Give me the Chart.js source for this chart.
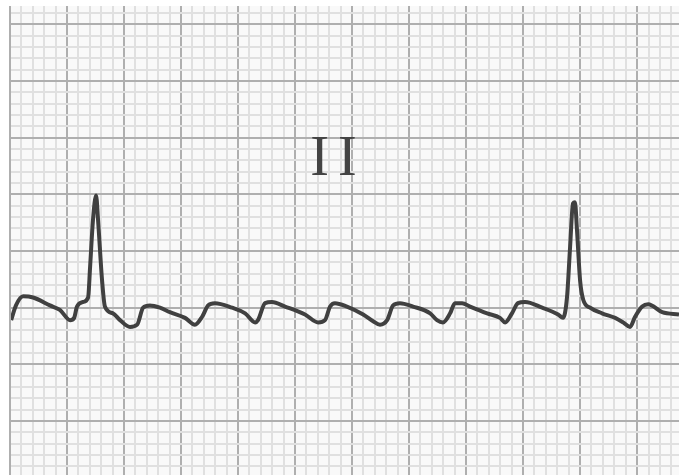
<!DOCTYPE html>
<html lang="en">
<head>
    <meta charset="UTF-8">
    <title>ECG lead II</title>
    <script src="https://cdn.jsdelivr.net/npm/chart.js@4.4.1/dist/chart.umd.min.js"></script>
    <style>
        html, body { margin: 0; padding: 0; background: #ffffff; }
        #wrap { width: 679px; height: 475px; }
    </style>
</head>
<body>

<div id="wrap"><canvas id="ecg"></canvas></div>

<script>

    // lead label
    var leadName = "II";

    // time in seconds (25 mm/s paper), voltage in mV (10 mm/mV)
    var timeSec = [0.004, 0.021, 0.046, 0.081, 0.140, 0.175, 0.211, 0.225, 0.235, 0.256,
        0.274, 0.281, 0.291, 0.302, 0.309, 0.323, 0.333, 0.361, 0.386, 0.421,
        0.446, 0.467, 0.491, 0.526, 0.561, 0.614, 0.649, 0.674, 0.695, 0.719,
        0.779, 0.825, 0.860, 0.870, 0.895, 0.919, 0.965, 1.035, 1.081, 1.105,
        1.123, 1.140, 1.182, 1.239, 1.274, 1.298, 1.323, 1.344, 1.368, 1.414,
        1.474, 1.498, 1.519, 1.544, 1.561, 1.586, 1.614, 1.674, 1.719, 1.737,
        1.761, 1.782, 1.807, 1.867, 1.923, 1.940, 1.954, 1.965, 1.975, 1.982,
        1.989, 2.000, 2.011, 2.035, 2.077, 2.123, 2.151, 2.175, 2.193, 2.218,
        2.239, 2.288, 2.347];

    var voltage = [0.89, 1.02, 1.10, 1.09, 1.02, 0.98, 0.89, 0.91, 1.01, 1.05,
        1.09, 1.36, 1.77, 1.99, 1.77, 1.24, 1.01, 0.95, 0.89, 0.83,
        0.85, 1.00, 1.02, 1.00, 0.96, 0.91, 0.85, 0.92, 1.02, 1.04,
        1.00, 0.95, 0.87, 0.89, 1.04, 1.05, 1.01, 0.94, 0.87, 0.89,
        1.01, 1.04, 1.01, 0.94, 0.88, 0.85, 0.89, 1.02, 1.04, 1.01,
        0.95, 0.89, 0.87, 0.95, 1.04, 1.04, 1.01, 0.95, 0.91, 0.87,
        0.95, 1.04, 1.05, 1.00, 0.94, 0.91, 1.09, 1.54, 1.92, 1.93,
        1.69, 1.24, 1.07, 1.00, 0.95, 0.91, 0.87, 0.83, 0.92, 1.01,
        1.03, 0.96, 0.94];

    // paper grid: small box 0.04 s x 0.1 mV, big box every 5
    var gridTime = [];
    for (var i = 0; i <= 59; i++) gridTime.push(i * 0.04);
    var gridVolt = [];
    for (var j = -4; j <= 36; j++) gridVolt.push(j * 0.1);

    var points = timeSec.map(function (t, k) { return {x: t, y: voltage[k]}; });

    var paperBg = {
        id: 'paperBg',
        beforeDraw: function (chart) {
            var a = chart.chartArea, c = chart.ctx;
            c.save();
            c.fillStyle = '#f9f9f9';
            c.fillRect(a.left, a.top, a.right - a.left, a.bottom - a.top);
            c.restore();
        }
    };

    var leadLabel = {
        id: 'leadLabel',
        afterDatasetsDraw: function (chart) {
            var c = chart.ctx;
            c.save();
            c.fillStyle = '#444444';
            c.font = '56px "Liberation Serif", "DejaVu Serif", serif';
            c.letterSpacing = '9px';
            c.textAlign = 'center';
            c.textBaseline = 'middle';
            c.fillText(leadName, 338, 160);
            c.restore();
        }
    };

    function gridColor(step, minor, major) {
        return function (ctx) {
            if (!ctx.tick) return minor;
            var n = Math.round(ctx.tick.value / step);
            return (n % 5 === 0) ? major : minor;
        };
    }

    var ctx = document.getElementById("ecg");

    var chart = new Chart(ctx, {
        type: 'line',
        data: {
            datasets: [{
                label: 'Lead II',
                data: points,
                borderColor: '#404040',
                borderWidth: 4,
                pointRadius: 0,
                cubicInterpolationMode: 'monotone',
                fill: false
            }]
        },
        options: {
            responsive: true,
            maintainAspectRatio: false,
            animation: false,
            layout: { padding: { left: 11, top: 6, right: 0, bottom: 0 } },
            plugins: {
                legend: { display: false },
                tooltip: { enabled: false }
            },
            scales: {
                x: {
                    type: 'linear',
                    min: 0.0035,
                    max: 2.347,
                    afterBuildTicks: function (axis) {
                        axis.ticks = gridTime.map(function (v) { return {value: v}; });
                    },
                    ticks: { display: false },
                    border: { display: false },
                    grid: {
                        drawTicks: false,
                        lineWidth: 2,
                        color: gridColor(0.04, '#e0e0e0', '#afafaf')
                    }
                },
                y: {
                    type: 'linear',
                    min: -0.477,
                    max: 3.663,
                    afterBuildTicks: function (axis) {
                        axis.ticks = gridVolt.map(function (v) { return {value: v}; });
                    },
                    ticks: { display: false },
                    border: { display: false },
                    grid: {
                        drawTicks: false,
                        lineWidth: 2,
                        color: gridColor(0.1, '#e0e0e0', '#afafaf')
                    }
                }
            }
        },
        plugins: [paperBg, leadLabel]
    });

</script>

</body>
</html>
